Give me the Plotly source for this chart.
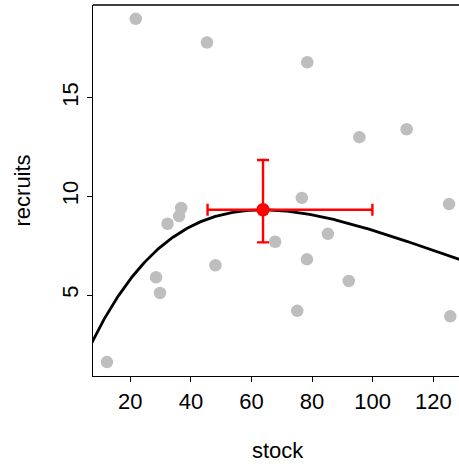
import numpy as np
import plotly.graph_objects as go

# Observed stock / recruitment pairs
stock = [21.8, 45.3, 78.4, 95.6, 111.2, 76.6, 125.2, 36.8, 36.1, 32.3,
         48.1, 28.5, 29.8, 12.3, 67.8, 85.2, 78.3, 92.1, 75.1, 125.6]
recruits = [19.0, 17.8, 16.8, 13.0, 13.4, 9.92, 9.61, 9.41, 9.0, 8.61,
            6.51, 5.9, 5.1, 1.6, 7.7, 8.1, 6.81, 5.71, 4.2, 3.92]

# Ricker fit R = a * S * exp(-b * S)
ricker_a = 0.397
ricker_b = 1 / 63.8

# Peak of the fitted curve with its uncertainty interval
peak_stock = [63.8]
peak_recruits = [9.32]
peak_stock_lo = [45.5]
peak_stock_hi = [99.9]
peak_recruits_lo = [7.67]
peak_recruits_hi = [11.84]

x_ticks = [20, 40, 60, 80, 100, 120]
y_ticks = [5, 10, 15]

s_grid = np.linspace(7.0, 131.0, 300)
r_fit = ricker_a * s_grid * np.exp(-ricker_b * s_grid)

fig = go.Figure()

fig.add_trace(go.Scatter(
    x=stock, y=recruits, mode="markers",
    marker=dict(color="#bebebe", size=12.5, line=dict(width=0)),
    hoverinfo="skip", showlegend=False,
))

fig.add_trace(go.Scatter(
    x=s_grid, y=r_fit, mode="lines",
    line=dict(color="black", width=2.8),
    hoverinfo="skip", showlegend=False,
))

fig.add_trace(go.Scatter(
    x=peak_stock, y=peak_recruits, mode="markers",
    marker=dict(color="red", size=13.5, line=dict(width=0)),
    error_x=dict(type="data", symmetric=False,
                 array=[peak_stock_hi[0] - peak_stock[0]],
                 arrayminus=[peak_stock[0] - peak_stock_lo[0]],
                 color="red", thickness=2.4, width=6),
    error_y=dict(type="data", symmetric=False,
                 array=[peak_recruits_hi[0] - peak_recruits[0]],
                 arrayminus=[peak_recruits[0] - peak_recruits_lo[0]],
                 color="red", thickness=2.4, width=6),
    hoverinfo="skip", showlegend=False,
))

font_family = "Liberation Sans, Arial, sans-serif"

fig.update_layout(
    width=459, height=466,
    margin=dict(l=93, r=0, t=5, b=90),
    paper_bgcolor="white", plot_bgcolor="white",
    font=dict(family=font_family, size=22, color="black"),
    xaxis=dict(
        range=[7.69, 128.48], tickvals=x_ticks,
        ticks="outside", ticklen=5, tickwidth=1.2, tickcolor="black",
        showline=True, linecolor="black", linewidth=1.3,
        showgrid=False, zeroline=False,
        tickfont=dict(size=22),
    ),
    yaxis=dict(
        range=[0.895, 19.70], tickvals=y_ticks,
        ticks="outside", ticklen=5, tickwidth=1.2, tickcolor="black",
        showline=True, linecolor="black", linewidth=1.3,
        showgrid=False, zeroline=False,
        tickangle=-90, tickfont=dict(size=22),
    ),
    shapes=[dict(type="line", xref="paper", yref="paper",
                 x0=0, x1=1, y0=1, y1=1,
                 line=dict(color="black", width=1.3))],
    annotations=[
        dict(text="stock", xref="paper", yref="paper", x=0.506, y=0,
             xanchor="center", yanchor="middle", yshift=-74,
             showarrow=False, font=dict(size=22)),
        dict(text="recruits", xref="paper", yref="paper", x=0, y=0.5,
             xanchor="center", yanchor="middle", xshift=-71,
             textangle=-90, showarrow=False, font=dict(size=22)),
    ],
)

fig.write_html("out.html")
